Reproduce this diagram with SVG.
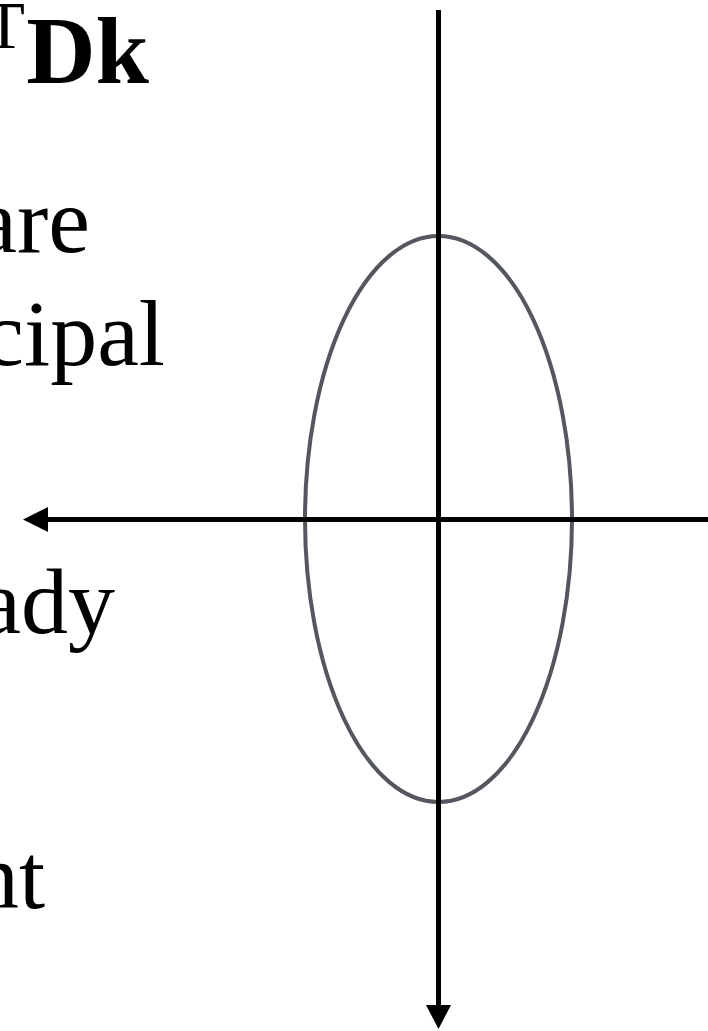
<svg xmlns="http://www.w3.org/2000/svg" width="708" height="1031" viewBox="0 0 708 1031">
  <style>
    .txt { font-family: "Liberation Serif", "Times New Roman", serif; fill: #000; }
    .reg { font-size: 94px; }
    .bold { font-size: 96px; font-weight: bold; }
    .sup { font-size: 67px; }
    .axis { stroke: #000; stroke-width: 5; fill: none; }
    .head { fill: #000; }
  </style>
  <rect width="708" height="1031" fill="#fff"/>
  <g id="text-block">
    <text class="txt sup" x="25" y="48" text-anchor="end">T</text>
    <text class="txt bold" x="149" y="83" text-anchor="end">Dk</text>
    <text class="txt reg" x="90" y="252" text-anchor="end">are</text>
    <text class="txt reg" x="165" y="365" text-anchor="end">cipal</text>
    <text class="txt reg" x="115" y="633" text-anchor="end">ady</text>
    <text class="txt reg" x="45" y="908" text-anchor="end">nt</text>
  </g>
  <g id="ellipse">
    <ellipse cx="438.5" cy="519" rx="133.5" ry="283" fill="none" stroke="#54585e" stroke-width="4"/>
  </g>
  <g id="connectors">
    <line class="axis" x1="438.5" y1="10" x2="438.5" y2="1006"/>
    <polygon class="head" points="426,1005 451,1005 438.5,1029"/>
    <line class="axis" x1="708" y1="519.5" x2="47" y2="519.5"/>
    <polygon class="head" points="48,507 48,532 23,519.5"/>
  </g>
</svg>
